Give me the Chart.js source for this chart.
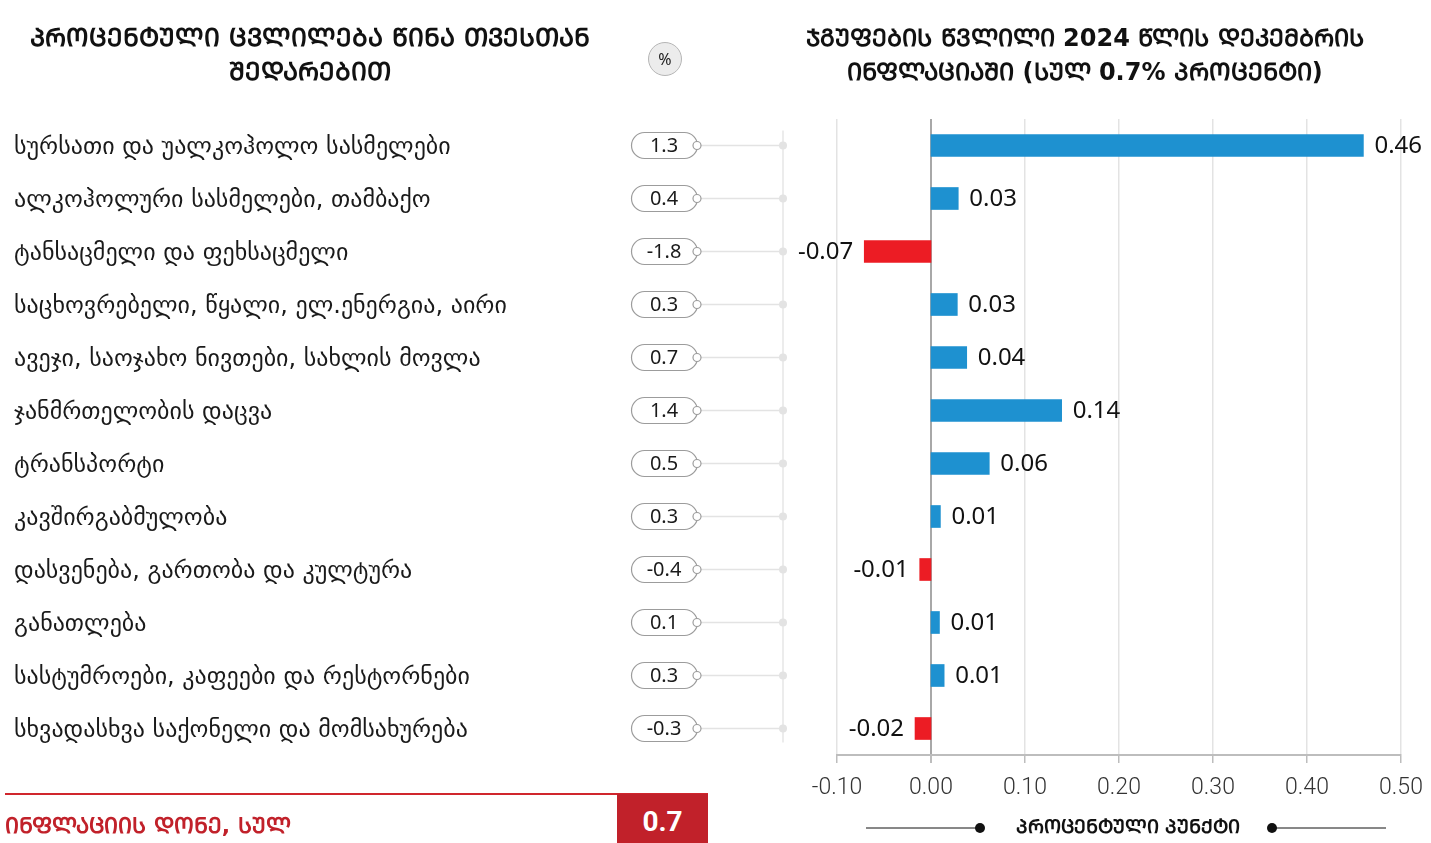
<!DOCTYPE html>
<html lang="ka">
<head>
<meta charset="utf-8">
<title>ინფლაცია</title>
<script src="https://cdn.jsdelivr.net/npm/chart.js@4.4.1/dist/chart.umd.min.js"></script>
<style>
  html, body { margin: 0; padding: 0; background: #fff; }
  body { width: 1431px; height: 843px; position: relative; overflow: hidden; font-family: "DejaVu Sans", sans-serif; }
  #grafico { position: absolute; left: 0; top: 0; }
  .titulo { position: absolute; top: 21px; width: 640px; text-align: center; font-weight: bold; font-size: 25px; line-height: 34px; color: #111; }
  #tituloIzq { left: -10px; }
  #tituloDer { left: 765px; font-size: 24px; }
  #porc { position: absolute; left: 648px; top: 42px; width: 32px; height: 32px; border-radius: 50%; background: #ececec; border: 1px solid #b5b5b5; font: 16px "Noto Sans", sans-serif; text-align: center; line-height: 32px; color: #222; }
  #lineaRoja { position: absolute; left: 5px; top: 793px; width: 703px; height: 2px; background: #d0262d; }
  #cajaTotal { position: absolute; left: 617px; top: 794px; width: 91px; height: 49px; background: #c1212a; color: #fff; font: bold 28px "Roboto", sans-serif; text-align: center; line-height: 56px; }
  #textoTotal { position: absolute; left: 5px; top: 810px; font-weight: bold; font-size: 22px; color: #c1212a; }
</style>
</head>
<body>
<canvas id="grafico" width="1431" height="843"></canvas>
<div class="titulo" id="tituloIzq"></div>
<div id="porc">%</div>
<div class="titulo" id="tituloDer"></div>
<div id="lineaRoja"></div>
<div id="cajaTotal">0.7</div>
<div id="textoTotal"></div>
<script>
// datos
const categorias = [
  "სურსათი და უალკოჰოლო სასმელები",
  "ალკოჰოლური სასმელები, თამბაქო",
  "ტანსაცმელი და ფეხსაცმელი",
  "საცხოვრებელი, წყალი, ელ.ენერგია, აირი",
  "ავეჯი, საოჯახო ნივთები, სახლის მოვლა",
  "ჯანმრთელობის დაცვა",
  "ტრანსპორტი",
  "კავშირგაბმულობა",
  "დასვენება, გართობა და კულტურა",
  "განათლება",
  "სასტუმროები, კაფეები და რესტორნები",
  "სხვადასხვა საქონელი და მომსახურება"
];
const cambioMensual = [1.3, 0.4, -1.8, 0.3, 0.7, 1.4, 0.5, 0.3, -0.4, 0.1, 0.3, -0.3];
const contribucion = [0.46, 0.029, -0.071, 0.028, 0.038, 0.139, 0.062, 0.01, -0.012, 0.009, 0.014, -0.017];
const inflacionTotal = "0.7";

const tituloIzq = ["პროცენტული ცვლილება წინა თვესთან", "შედარებით"];
const tituloDer = ["ჯგუფების წვლილი 2024 წლის დეკემბრის", "ინფლაციაში (სულ 0.7% პროცენტი)"];
const textoTotal = "ინფლაციის დონე, სულ";
const tituloEje = "პროცენტული პუნქტი";

// mkhedruli -> mtavruli
function mtavruli(s) {
  return s.replace(/[\u10D0-\u10FA]/g, (c) => String.fromCharCode(c.charCodeAt(0) + 0x0BC0));
}

document.getElementById("tituloIzq").innerHTML = tituloIzq.map(mtavruli).join("<br>");
document.getElementById("tituloDer").innerHTML = tituloDer.map(mtavruli).join("<br>");
document.getElementById("textoTotal").innerText = mtavruli(textoTotal);
document.getElementById("cajaTotal").innerText = inflacionTotal;

const AZUL = "#1e91d0";
const ROJO = "#ec1c24";

// columna izquierda: nombres, pastillas y conectores
const ladoIzquierdo = {
  id: "ladoIzquierdo",
  afterDraw(chart) {
    const ctx = chart.ctx;
    const y = chart.scales.y;
    ctx.save();

    ctx.strokeStyle = "#e6e6e6";
    ctx.lineWidth = 1.5;
    ctx.beginPath();
    ctx.moveTo(783, y.getPixelForValue(0) - 15);
    ctx.lineTo(783, y.getPixelForValue(categorias.length - 1) + 14);
    ctx.stroke();

    categorias.forEach((cat, i) => {
      const py = y.getPixelForValue(i);

      ctx.fillStyle = "#1a1a1a";
      ctx.font = '24px "DejaVu Sans"';
      ctx.textAlign = "left";
      ctx.textBaseline = "middle";
      ctx.fillText(cat, 14, py + 2);

      ctx.strokeStyle = "#e3e3e3";
      ctx.lineWidth = 1.5;
      ctx.beginPath();
      ctx.moveTo(701, py);
      ctx.lineTo(783, py);
      ctx.stroke();
      ctx.fillStyle = "#e3e3e3";
      ctx.beginPath();
      ctx.arc(783, py, 4, 0, Math.PI * 2);
      ctx.fill();

      ctx.fillStyle = "#fff";
      ctx.strokeStyle = "#9c9c9c";
      ctx.lineWidth = 1.2;
      ctx.beginPath();
      ctx.roundRect(631.5, py - 13, 66, 26, 13);
      ctx.fill();
      ctx.stroke();

      ctx.beginPath();
      ctx.arc(697, py, 4, 0, Math.PI * 2);
      ctx.fill();
      ctx.stroke();

      ctx.fillStyle = "#1a1a1a";
      ctx.font = '20px "Noto Sans"';
      ctx.textAlign = "center";
      ctx.fillText(cambioMensual[i].toFixed(1), 664, py + 1);
    });

    // titulo del eje
    const cx = 1128, cy = 828;
    ctx.font = 'bold 19px "DejaVu Sans"';
    ctx.fillStyle = "#111";
    ctx.textAlign = "center";
    ctx.fillText(mtavruli(tituloEje), cx, cy);
    ctx.strokeStyle = "#111";
    ctx.lineWidth = 1;
    ctx.beginPath();
    ctx.moveTo(866, cy); ctx.lineTo(980, cy);
    ctx.moveTo(1272, cy); ctx.lineTo(1386, cy);
    ctx.stroke();
    ctx.beginPath(); ctx.arc(980, cy, 5, 0, Math.PI * 2); ctx.fill();
    ctx.beginPath(); ctx.arc(1272, cy, 5, 0, Math.PI * 2); ctx.fill();

    ctx.restore();
  }
};

// etiquetas de valor junto a las barras
const etiquetasValor = {
  id: "etiquetasValor",
  afterDatasetsDraw(chart) {
    const ctx = chart.ctx;
    const meta = chart.getDatasetMeta(0);
    ctx.save();
    ctx.font = '24px "Noto Sans"';
    ctx.fillStyle = "#111";
    ctx.textBaseline = "middle";
    meta.data.forEach((barra, i) => {
      const v = contribucion[i];
      const texto = v.toFixed(2);
      if (v >= 0) {
        ctx.textAlign = "left";
        ctx.fillText(texto, barra.x + 11, barra.y + 1);
      } else {
        ctx.textAlign = "right";
        ctx.fillText(texto, barra.x - 11, barra.y + 1);
      }
    });
    ctx.restore();
  }
};

new Chart(document.getElementById("grafico"), {
  type: "bar",
  data: {
    labels: categorias,
    datasets: [
      {
        data: contribucion,
        backgroundColor: contribucion.map((v) => (v < 0 ? ROJO : AZUL)),
        barThickness: 22,
      },
    ],
  },
  options: {
    indexAxis: "y",
    responsive: false,
    animation: false,
    devicePixelRatio: 1,
    layout: { padding: { left: 837, right: 30, top: 119, bottom: 0 } },
    plugins: {
      legend: { display: false },
      tooltip: { enabled: false },
    },
    scales: {
      y: { display: false },
      x: {
        min: -0.1,
        max: 0.5,
        afterFit(scale) {
          scale.height = 88;
          scale.paddingLeft = 0;
          scale.paddingRight = 0;
        },
        border: { display: true, color: "#bdbdbd", width: 2 },
        grid: {
          color: (c) => (c.tick && Math.abs(c.tick.value) < 1e-9 ? "#a8a8a8" : "#e3e3e3"),
          lineWidth: (c) => (c.tick && Math.abs(c.tick.value) < 1e-9 ? 2 : 1.5),
          tickLength: 8,
          tickColor: "#bdbdbd",
        },
        ticks: {
          stepSize: 0.1,
          padding: 11,
          color: "#333",
          font: { family: "Roboto", size: 23, weight: 300 },
          callback: (v) => (Math.abs(v) < 1e-9 ? 0 : Number(v)).toFixed(2),
        },
      },
    },
  },
  plugins: [ladoIzquierdo, etiquetasValor],
});
</script>
</body>
</html>
